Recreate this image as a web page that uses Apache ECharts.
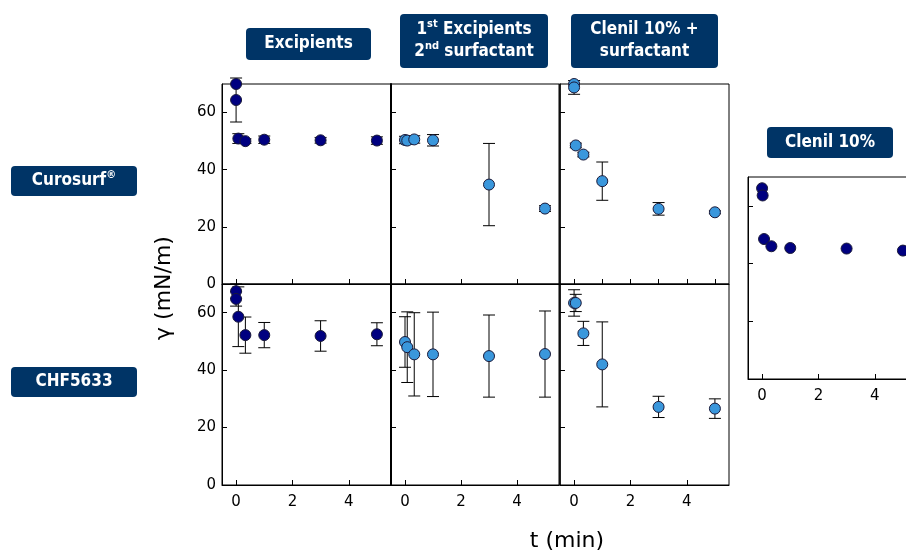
<!DOCTYPE html>
<html>
<head>
<meta charset="utf-8">
<script src="https://cdn.jsdelivr.net/npm/echarts@6/dist/echarts.min.js"></script>
<style>
  html, body { margin: 0; padding: 0; background: #fff; }
  #chart { width: 906px; height: 554px; }
</style>
</head>
<body>
<div id="chart"></div>
<script>
// surface tension (mN/m) vs time (min), one set of arrays per panel
var tCuroExc = [0, 0, 0.08, 0.33, 1, 3, 5];
var yCuroExc = [70, 64.4, 50.9, 50.0, 50.5, 50.3, 50.2];
var eCuroExc = [0, 7.7, 1.7, 0.8, 1.3, 1.0, 1.3];

var tCuroSurf = [0, 0.08, 0.33, 1, 3, 5];
var yCuroSurf = [50.4, 50.2, 50.6, 50.3, 34.8, 26.4];
var eCuroSurf = [1.3, 1.3, 1.3, 2.0, 14.4, 1.0];

var tCuroClen = [0, 0, 0.06, 0.33, 1, 3, 5];
var yCuroClen = [70, 68.8, 48.5, 45.3, 36.0, 26.3, 25.1];
var eCuroClen = [0, 2.4, 0.8, 0.8, 6.7, 2.2, 0.5];

var tChfExc = [0, 0, 0.08, 0.33, 1, 3, 5];
var yChfExc = [67.5, 64.8, 58.6, 52.2, 52.2, 51.9, 52.5];
var eChfExc = [2.5, 2.5, 10.4, 6.3, 4.4, 5.3, 4.0];

var tChfSurf = [0, 0.08, 0.33, 1, 3, 5];
var yChfSurf = [49.8, 48.0, 45.5, 45.5, 44.9, 45.6];
var eChfSurf = [8.8, 12.3, 14.5, 14.7, 14.3, 15.0];

var tChfClen = [0, 0.06, 0.33, 1, 3, 5];
var yChfClen = [63.4, 63.4, 52.8, 42.0, 27.2, 26.6];
var eChfClen = [4.6, 3.0, 4.2, 14.8, 3.7, 3.4];

var tClenil = [0, 0.02, 0.07, 0.33, 1, 3, 5];
var yClenil = [66.1, 63.6, 48.5, 46.0, 45.4, 45.2, 44.5];

var yTicks = [0, 20, 40, 60];
var xTicks = [0, 2, 4];
var xTicksFine = [0, 1, 2, 3, 4, 5];

var NAVY = '#000080';
var LIGHT = '#3a97dc';
var BOX = '#003466';

var panels = [
  { grid: { left: 222, top: 84, width: 169, height: 200 }, t: tCuroExc, y: yCuroExc, e: eCuroExc, color: NAVY, yLab: true, xLab: false, xt: xTicks, lw: 1 },
  { grid: { left: 391, top: 84, width: 168, height: 200 }, t: tCuroSurf, y: yCuroSurf, e: eCuroSurf, color: LIGHT, yLab: false, xLab: false, xt: xTicks, lw: 2 },
  { grid: { left: 560, top: 84, width: 169, height: 200 }, t: tCuroClen, y: yCuroClen, e: eCuroClen, color: LIGHT, yLab: false, xLab: false, xt: xTicksFine, lw: 1.5 },
  { grid: { left: 222, top: 284, width: 169, height: 201 }, t: tChfExc, y: yChfExc, e: eChfExc, color: NAVY, yLab: true, xLab: true, xt: xTicks, lw: 1 },
  { grid: { left: 391, top: 284, width: 168, height: 201 }, t: tChfSurf, y: yChfSurf, e: eChfSurf, color: LIGHT, yLab: false, xLab: true, xt: xTicks, lw: 2 },
  { grid: { left: 560, top: 284, width: 169, height: 201 }, t: tChfClen, y: yChfClen, e: eChfClen, color: LIGHT, yLab: false, xLab: true, xt: xTicks, lw: 1.5 },
  { grid: { left: 748, top: 177, width: 169, height: 202 }, t: tClenil, y: yClenil, e: null, color: NAVY, yLab: false, xLab: true, xt: xTicks, lw: 1 }
];

var labelFont = 'DejaVu Sans';
var grids = [], xAxes = [], yAxes = [], series = [];

panels.forEach(function (p, i) {
  grids.push(Object.assign({ show: true, borderColor: '#000', borderWidth: 1, backgroundColor: 'transparent',
    outerBoundsMode: 'none', containLabel: false }, p.grid));
  xAxes.push({
    gridIndex: i, type: 'value', min: -0.5, max: 5.5,
    axisLine: { show: true, onZero: false, lineStyle: { color: '#000' } },
    splitLine: { show: false },
    axisTick: { show: true, inside: true, length: 5, customValues: p.xt, lineStyle: { color: '#000' } },
    axisLabel: { show: p.xLab, customValues: xTicks, color: '#000', fontSize: 15, fontFamily: labelFont, margin: 10 }
  });
  yAxes.push({
    gridIndex: i, type: 'value', min: 0, max: 70,
    axisLine: { show: true, onZero: false, lineStyle: { color: '#000', width: p.lw } },
    splitLine: { show: false },
    axisTick: { show: true, inside: true, length: 5, customValues: yTicks, lineStyle: { color: '#000' } },
    axisLabel: { show: p.yLab, customValues: yTicks, color: '#000', fontSize: 15, fontFamily: labelFont, margin: 6 }
  });
  if (p.e) {
    var eb = p.t.map(function (t, k) { return [t, p.y[k], p.e[k]]; });
    series.push({
      type: 'custom', xAxisIndex: i, yAxisIndex: i, clip: false, z: 2,
      data: eb,
      renderItem: function (params, api) {
        var x = api.value(0), y = api.value(1), e = api.value(2);
        if (!e) return;
        var lo = api.coord([x, y - e]);
        var hi = api.coord([x, y + e]);
        var hw = 6;
        var st = { stroke: '#000', lineWidth: 1 };
        return {
          type: 'group',
          children: [
            { type: 'line', shape: { x1: lo[0], y1: lo[1], x2: hi[0], y2: hi[1] }, style: st },
            { type: 'line', shape: { x1: lo[0] - hw, y1: lo[1], x2: lo[0] + hw, y2: lo[1] }, style: st },
            { type: 'line', shape: { x1: hi[0] - hw, y1: hi[1], x2: hi[0] + hw, y2: hi[1] }, style: st }
          ]
        };
      }
    });
  }
  series.push({
    type: 'scatter', xAxisIndex: i, yAxisIndex: i, clip: false, z: 3,
    symbol: 'circle', symbolSize: 11,
    itemStyle: { color: p.color, borderColor: '#1a1a3a', borderWidth: 1, opacity: 1 },
    data: p.t.map(function (t, k) { return [t, p.y[k]]; })
  });
});

function box(x, y, w, h, rich) {
  return [
    { type: 'rect', left: x, top: y, shape: { width: w, height: h, r: 4 }, style: { fill: BOX } },
    { type: 'text', x: x + w / 2, y: y + h / 2,
      style: { text: rich, align: 'center', verticalAlign: 'middle', lineHeight: 22,
        fill: '#fff', font: 'bold 17px "DejaVu Sans Condensed"',
        rich: {
          n: { fill: '#fff', font: 'bold 17px "DejaVu Sans Condensed"', lineHeight: 22 },
          s: { fill: '#fff', font: 'bold 11px "DejaVu Sans Condensed"', verticalAlign: 'top', lineHeight: 22, padding: [0, 0, 8, 0] }
        } } }
  ];
}

var graphics = [].concat(
  box(246, 28, 125, 32, '{n|Excipients}'),
  box(400, 14, 148, 54, '{n|1}{s|st}{n| Excipients}\n{n|2}{s|nd}{n| surfactant}'),
  box(571, 14, 147, 54, '{n|Clenil 10% +}\n{n|surfactant}'),
  box(767, 127, 126, 31, '{n|Clenil 10%}'),
  box(11, 166, 126, 30, '{n|Curosurf}{s|®}'),
  box(11, 367, 126, 30, '{n|CHF5633}'),
  [
    { type: 'text', x: 164, y: 288, rotation: Math.PI / 2,
      style: { text: 'γ (mN/m)', align: 'center', verticalAlign: 'middle', fill: '#000', font: '22px "DejaVu Sans"' } },
    { type: 'text', x: 567, y: 541,
      style: { text: 't (min)', align: 'center', verticalAlign: 'middle', fill: '#000', font: '22px "DejaVu Sans"' } }
  ]
);

var chart = echarts.init(document.getElementById('chart'), null, { renderer: 'canvas' });
chart.setOption({
  animation: false,
  backgroundColor: '#fff',
  grid: grids,
  xAxis: xAxes,
  yAxis: yAxes,
  series: series,
  graphic: graphics
});
</script>
</body>
</html>
